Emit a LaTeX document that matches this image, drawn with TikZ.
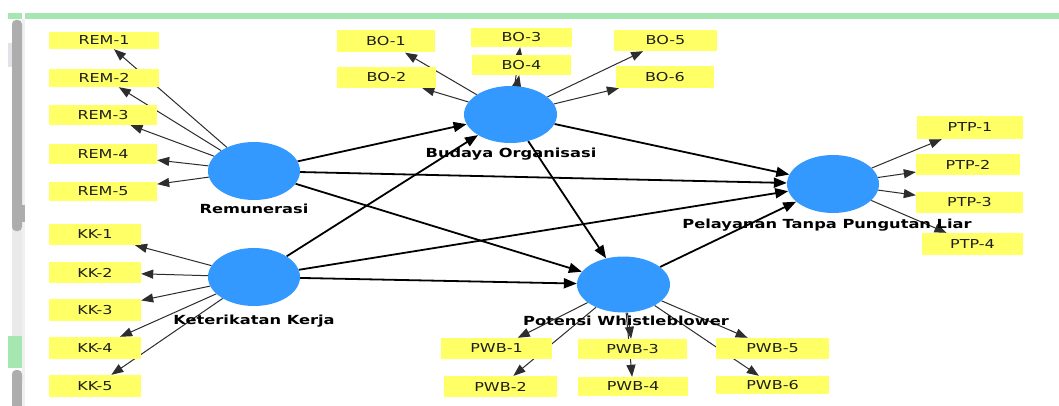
\documentclass[tikz,border=0pt]{standalone}
\usepackage{fontspec}
\setmainfont{DejaVu Sans}[FakeStretch=1.3]
\usetikzlibrary{arrows.meta,shapes.geometric}
\pgfdeclarelayer{back}
\pgfdeclarelayer{bg}
\pgfsetlayers{back,bg,main}
\definecolor{indc}{RGB}{255,255,102}
\definecolor{lvc}{RGB}{51,153,255}
\definecolor{gbar}{RGB}{166,230,176}
\definecolor{thumb}{RGB}{173,173,173}
\definecolor{track}{RGB}{234,234,234}
\definecolor{sideline}{RGB}{240,240,240}
\definecolor{lightsq}{RGB}{226,226,232}
\definecolor{txt}{RGB}{30,30,30}
\definecolor{lc}{RGB}{45,45,45}
\begin{document}
\begin{tikzpicture}[x=1pt,y=-1pt,
  indbox/.style={fill=indc, inner sep=0pt, text=txt, font=\fontsize{12.3}{14}\selectfont},
  lvnode/.style={ellipse, fill=lvc, inner sep=0pt, minimum width=92pt, minimum height=58pt},
  lvlabel/.style={anchor=base, inner sep=0pt, font=\fontsize{12.5}{15}\selectfont\bfseries},
  loading/.style={draw=lc, line width=1pt, -{Triangle[length=12pt,width=9pt]}},
  structarrow/.style={draw=black, line width=1.8pt, -{Triangle[length=13pt,width=10pt]}}]
\useasboundingbox (0,0) rectangle (1059,406);
\begin{pgfonlayer}{back}
\fill[white] (0,0) rectangle (1059,406);
% window chrome
\fill[gbar] (8,13) rectangle (22,19);
\fill[gbar] (25,13) rectangle (1059,19);
\fill[sideline] (22,19) rectangle (25,406);
\fill[lightsq] (8,43) rectangle (12,67);
\fill[track] (12,225) rectangle (22,336);
\fill[thumb, rounded corners=4pt] (12,20) rectangle (22,231);
\fill[thumb] (22,205) rectangle (25,222);
\fill[gbar] (8,336) rectangle (22,368);
\fill[thumb, rounded corners=4pt] (12,370) rectangle (22,385);
\fill[thumb] (12,378) rectangle (22,406);
\end{pgfonlayer}
% latent variables
\node[lvnode] (rem) at (254,171) {};
\node[lvnode] (kk) at (254,277) {};
\node[lvnode, minimum width=93pt, minimum height=57pt] (bo) at (510.5,114.5) {};
\node[lvnode, minimum width=93pt, minimum height=56pt] (pwb) at (623.5,284.5) {};
\node[lvnode] (ptp) at (833,184) {};
% labels
\node[lvlabel] (remlbl) at (254,213) {Remunerasi};
\node[lvlabel] (kklbl) at (254,324) {Keterikatan Kerja};
\node[lvlabel] (bolbl) at (511,158) {Budaya Organisasi};
\node[lvlabel] (pwblbl) at (626,325) {Potensi Whistleblower};
\node[lvlabel] (ptplbl) at (827,228) {Pelayanan Tanpa Pungutan Liar};
% indicators
\node[indbox, minimum width=110pt, minimum height=17pt] (rem1) at (104,40.5) {REM-1};
\node[indbox, minimum width=110pt, minimum height=18pt] (rem2) at (104,78) {REM-2};
\node[indbox, minimum width=108pt, minimum height=20pt] (rem3) at (103,115) {REM-3};
\node[indbox, minimum width=108pt, minimum height=20pt] (rem4) at (103,154) {REM-4};
\node[indbox, minimum width=108pt, minimum height=19pt] (rem5) at (103,191.5) {REM-5};
\node[indbox, minimum width=92pt, minimum height=21pt] (kk1) at (95,234.5) {KK-1};
\node[indbox, minimum width=92pt, minimum height=21pt] (kk2) at (95,272.5) {KK-2};
\node[indbox, minimum width=92pt, minimum height=22pt] (kk3) at (95,310) {KK-3};
\node[indbox, minimum width=92pt, minimum height=22pt] (kk4) at (95,348) {KK-4};
\node[indbox, minimum width=92pt, minimum height=22pt] (kk5) at (95,386) {KK-5};
\node[indbox, minimum width=98pt, minimum height=22pt] (bo1) at (386,41.5) {BO-1};
\node[indbox, minimum width=99pt, minimum height=21pt] (bo2) at (386.5,77.5) {BO-2};
\node[indbox, minimum width=101pt, minimum height=19pt] (bo3) at (521.5,37.5) {BO-3};
\node[indbox, minimum width=99pt, minimum height=20pt] (bo4) at (521.5,65) {BO-4};
\node[indbox, minimum width=103pt, minimum height=21pt] (bo5) at (665.5,40.5) {BO-5};
\node[indbox, minimum width=98pt, minimum height=22pt] (bo6) at (665,77) {BO-6};
\node[indbox, minimum width=111pt, minimum height=21pt] (pwb1) at (496.5,348.5) {PWB-1};
\node[indbox, minimum width=113pt, minimum height=21pt] (pwb2) at (500.5,386.5) {PWB-2};
\node[indbox, minimum width=109pt, minimum height=20pt] (pwb3) at (632.5,349) {PWB-3};
\node[indbox, minimum width=110pt, minimum height=19pt] (pwb4) at (633,386.5) {PWB-4};
\node[indbox, minimum width=113pt, minimum height=21pt] (pwb5) at (772.5,348.5) {PWB-5};
\node[indbox, minimum width=113pt, minimum height=18pt] (pwb6) at (772.5,385) {PWB-6};
\node[indbox, minimum width=106pt, minimum height=23pt] (ptp1) at (970,127.5) {PTP-1};
\node[indbox, minimum width=104pt, minimum height=21pt] (ptp2) at (968,164.5) {PTP-2};
\node[indbox, minimum width=107pt, minimum height=21pt] (ptp3) at (969.5,202.5) {PTP-3};
\node[indbox, minimum width=101pt, minimum height=22pt] (ptp4) at (972.5,244) {PTP-4};
% connectors
\begin{pgfonlayer}{bg}
\foreach \i in {1,...,5} \draw[loading] (rem) -- (rem\i);
\foreach \i in {1,...,5} \draw[loading] (kk) -- (kk\i);
\foreach \i in {1,...,6} \draw[loading] (bo) -- (bo\i);
\foreach \i in {1,...,6} \draw[loading] (pwb) -- (pwb\i);
\foreach \i in {1,...,4} \draw[loading] (ptp) -- (ptp\i);
\draw[structarrow] (rem) -- (bo);
\draw[structarrow] (rem) -- (ptp);
\draw[structarrow] (rem) -- (pwb);
\draw[structarrow] (kk) -- (bo);
\draw[structarrow] (kk) -- (ptp);
\draw[structarrow] (kk) -- (pwb);
\draw[structarrow] (bo) -- (ptp);
\draw[structarrow] (bo) -- (pwb);
\draw[structarrow] (pwb) -- (ptp);
\end{pgfonlayer}
\end{tikzpicture}
\end{document}
